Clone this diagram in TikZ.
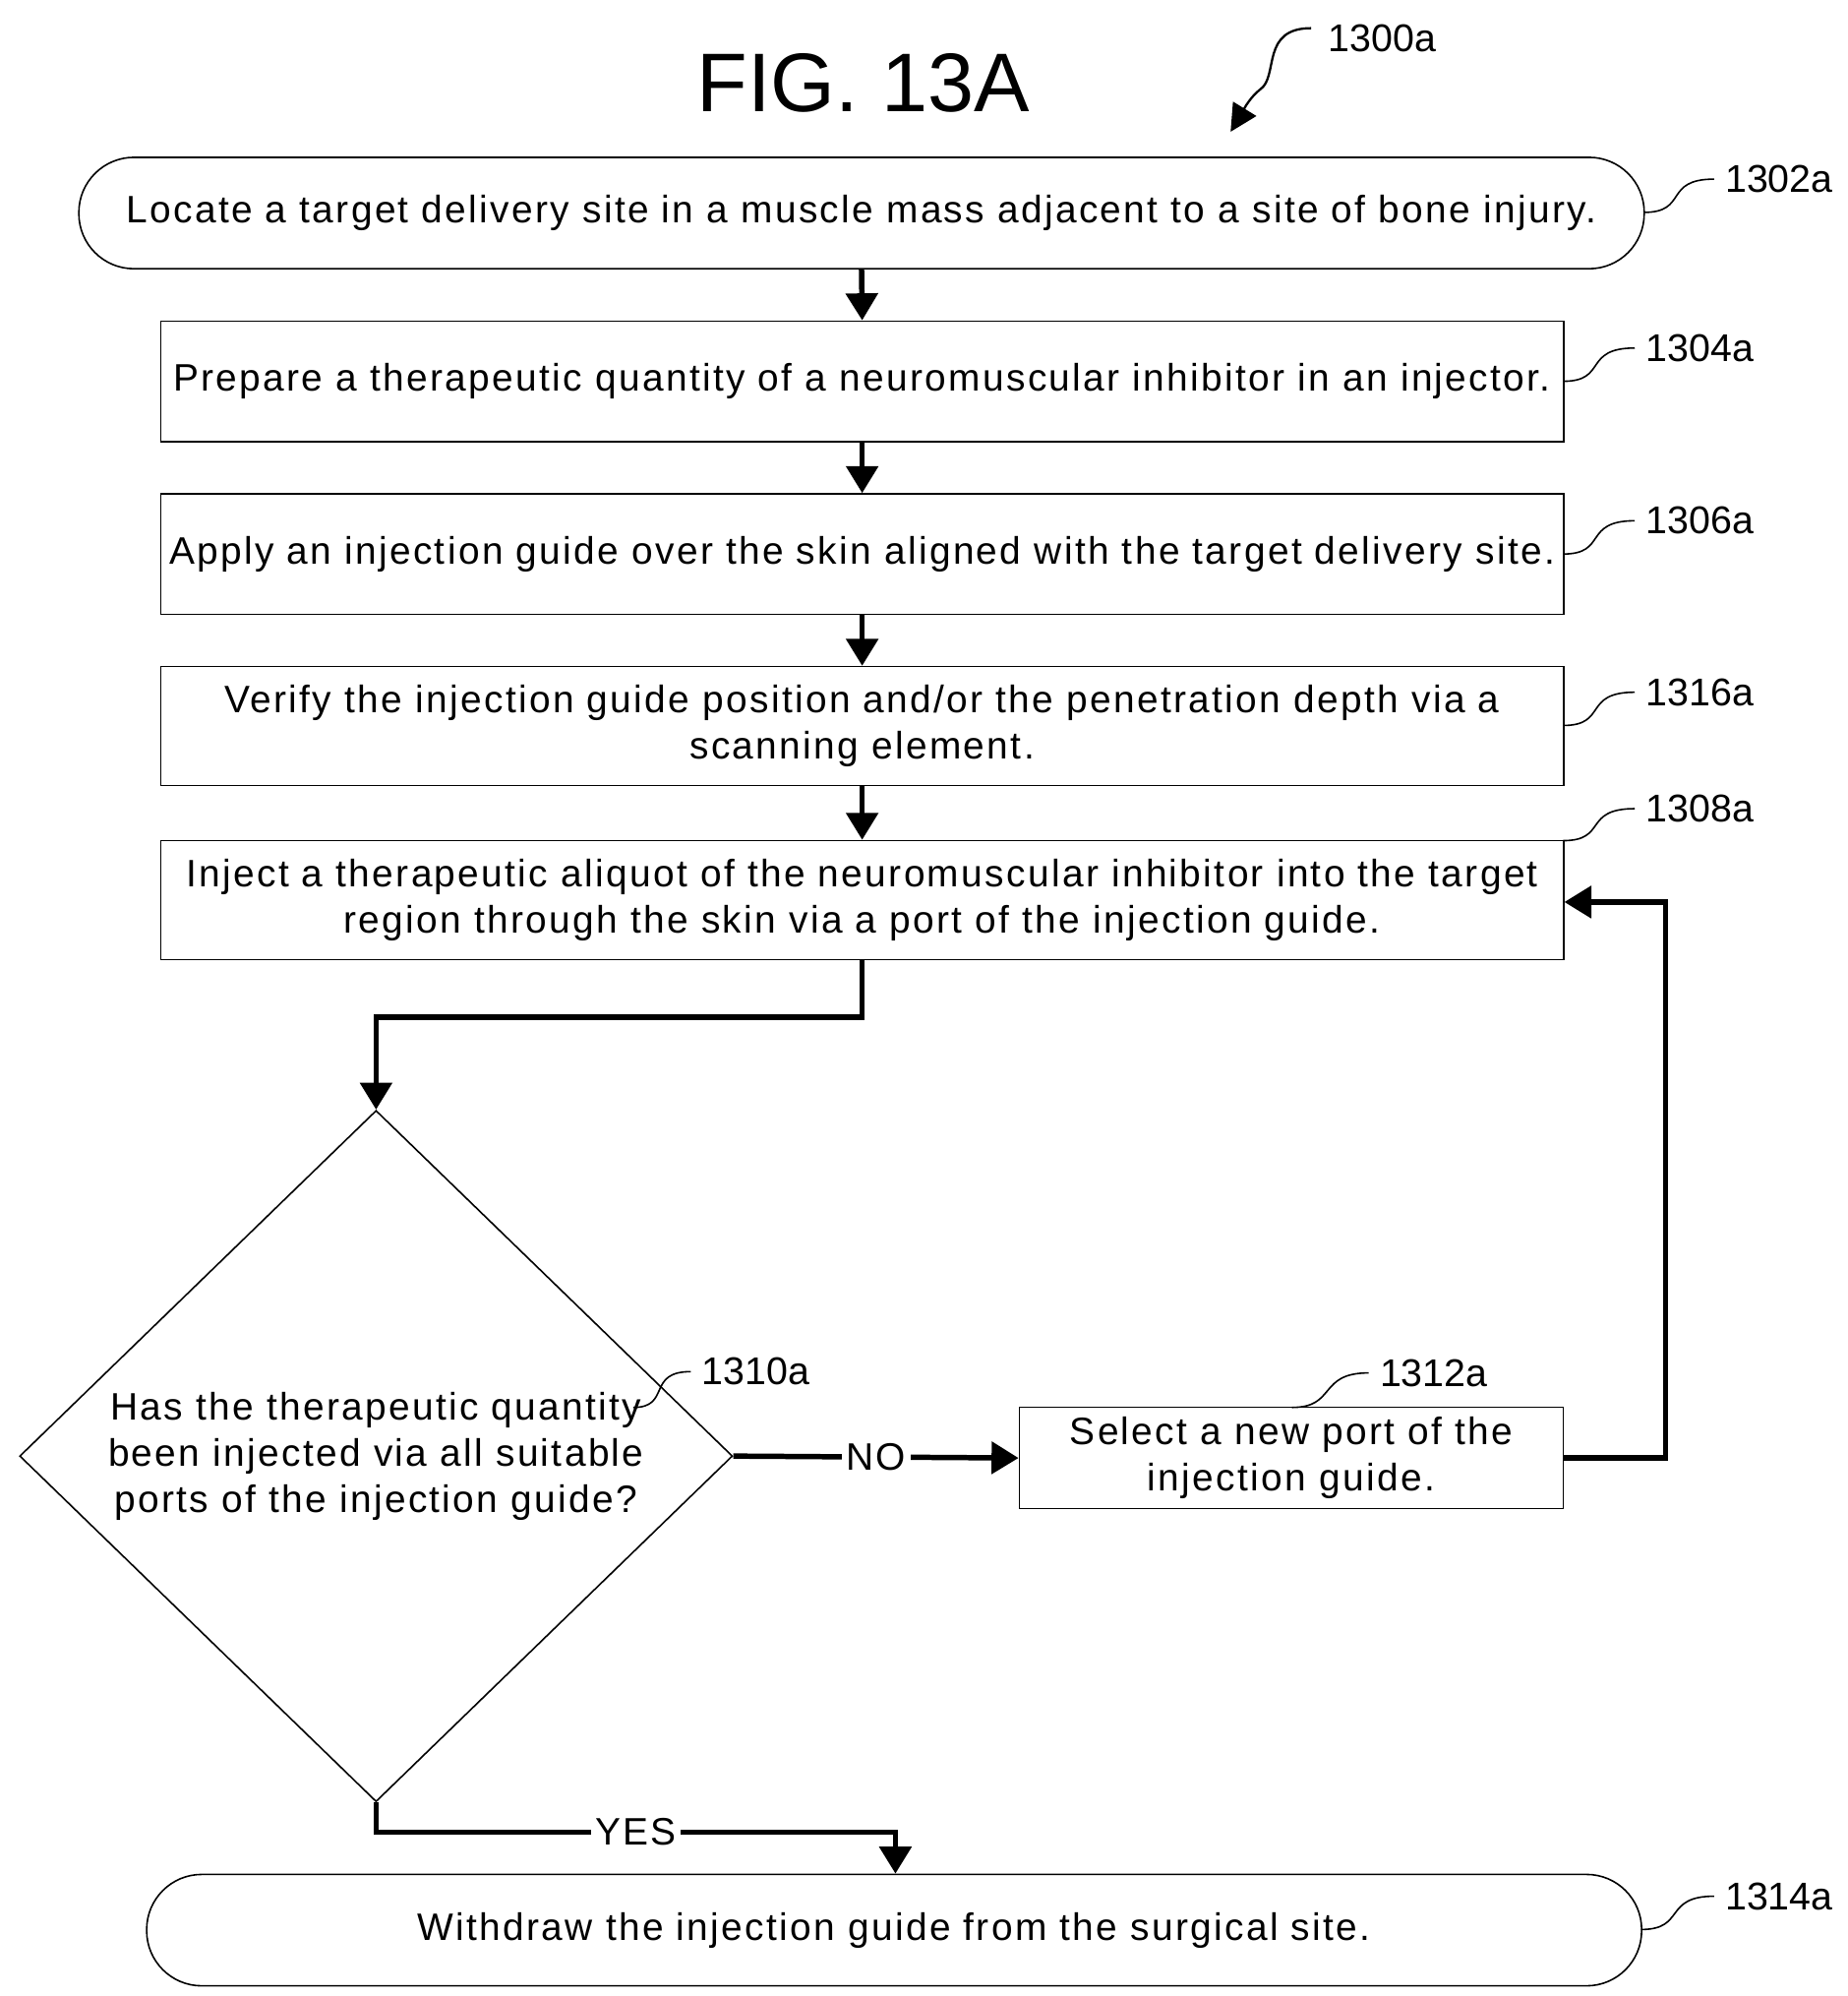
\documentclass[tikz,border=0pt]{standalone}
\usepackage{fontspec}
\setmainfont{Liberation Sans}[LetterSpace=6]
\newfontfamily\titlefont{Liberation Sans}
\usetikzlibrary{shapes.geometric,arrows.meta}
\begin{document}
\begin{tikzpicture}[x=0.01cm,y=-0.01cm,
  txt/.style={font=\fontsize{8.5}{10.3}\selectfont, align=center},
  box/.style={draw, line width=0.35pt, txt, inner sep=0pt},
  arr/.style={line width=1.2pt, -{Triangle[length=6pt,width=7pt]}},
  lbl/.style={font=\titlefont\fontsize{8.6}{10}\selectfont, anchor=west, inner sep=0pt},
  sq/.style={line width=0.35pt}]
\useasboundingbox (0,0) rectangle (1444,1560);
\node[font=\titlefont\fontsize{18.5}{22}\selectfont] (title) at (675,65) {FIG. 13A};
\node[lbl] (l1300) at (1038,30) {1300a};
\coordinate (t1300) at (962,103);
\draw[line width=0.5pt,-{Triangle[length=6pt,width=6pt]}] (1025,22) .. controls (985,22) and (1000,60) .. (985,70) .. controls (975,78) and (970,90) .. (t1300);

\node[box, rounded corners=0.43cm, minimum width=12.23cm, minimum height=0.87cm] (b1302) at (673.5,166.5) {Locate a target delivery site in a muscle mass adjacent to a site of bone injury.};
\node[box, minimum width=10.96cm, minimum height=0.94cm] (b1304) at (674,298) {Prepare a therapeutic quantity of a neuromuscular inhibitor in an injector.};
\node[box, minimum width=10.96cm, minimum height=0.94cm] (b1306) at (674,433) {Apply an injection guide over the skin aligned with the target delivery site.};
\node[box, minimum width=10.96cm, minimum height=0.93cm] (b1316) at (674,567.5) {Verify the injection guide position and/or the penetration depth via a\\scanning element.};
\node[box, minimum width=10.96cm, minimum height=0.93cm] (b1308) at (674,703.5) {Inject a therapeutic aliquot of the neuromuscular inhibitor into the target\\region through the skin via a port of the injection guide.};
\node[draw, line width=0.35pt, diamond, minimum width=5.57cm, minimum height=5.4cm, inner sep=0pt] (d1310) at (294,1138) {};
\node[txt] (t1310) at (294,1138) {Has the therapeutic quantity\\been injected via all suitable\\ports of the injection guide?};
\node[box, minimum width=4.25cm, minimum height=0.79cm] (b1312) at (1009.5,1139.5) {Select a new port of the\\injection guide.};
\node[box, rounded corners=0.43cm, minimum width=11.68cm, minimum height=0.87cm] (b1314) at (699,1508.5) {Withdraw the injection guide from the surgical site.};

\draw[arr] (b1302.south) -- (b1304.north);
\draw[arr] (b1304.south) -- (b1306.north);
\draw[arr] (b1306.south) -- (b1316.north);
\draw[arr] (b1316.south) -- (b1308.north);
\draw[arr] (b1308.south) -- (674,795) -- (294,795) -- (d1310.north);
\draw[arr] (d1310.east) -- node[fill=white, inner sep=1pt, txt] (no) {NO} (b1312.west);
\draw[arr] (b1312.east) -- (1302,1139.5) -- (1302,705) -- (b1308.east |- 0,705);
\draw[arr] (d1310.south) -- (294,1432) -- node[pos=0.5, fill=white, inner sep=1pt, txt] (yes) {YES} (700,1432) -- (b1314.north -| 700,0);

\node[lbl] (l1302) at (1348,140) {1302a};
\node[lbl] (l1304) at (1286,272) {1304a};
\node[lbl] (l1306) at (1286,407) {1306a};
\node[lbl] (l1316) at (1286,541) {1316a};
\node[lbl] (l1308) at (1286,632) {1308a};
\node[lbl] (l1310) at (548,1072) {1310a};
\node[lbl] (l1312) at (1078,1073) {1312a};
\node[lbl] (l1314) at (1348,1482) {1314a};
\draw[sq] (1285,166) .. controls (1320,166) and (1300,140) .. (1340,140);
\draw[sq] (1222,298) .. controls (1257,298) and (1237,272) .. (1278,272);
\draw[sq] (1222,433) .. controls (1257,433) and (1237,407) .. (1278,407);
\draw[sq] (1222,567) .. controls (1257,567) and (1237,541) .. (1278,541);
\draw[sq] (1222,657) .. controls (1257,657) and (1237,632) .. (1278,632);
\draw[sq] (495,1100) .. controls (525,1100) and (505,1072) .. (540,1072);
\draw[sq] (1010,1100) .. controls (1045,1100) and (1030,1073) .. (1070,1073);
\draw[sq] (1283,1508) .. controls (1318,1508) and (1300,1482) .. (1340,1482);
\end{tikzpicture}
\end{document}
